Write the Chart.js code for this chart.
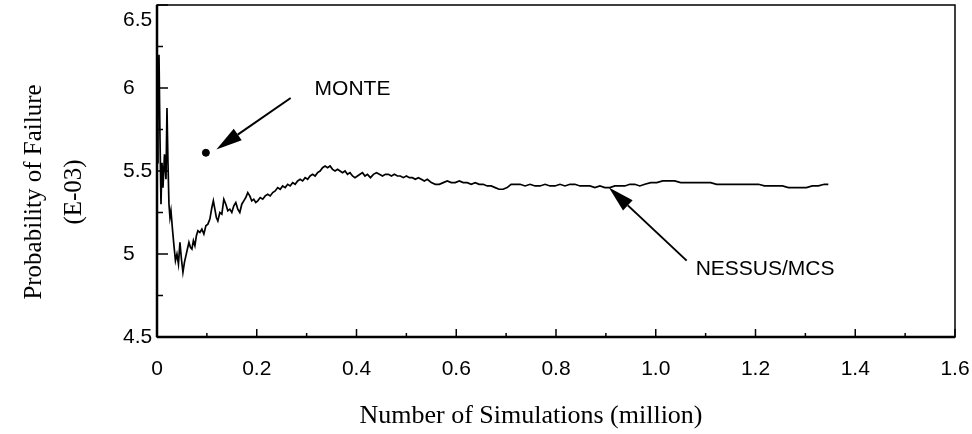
<!DOCTYPE html>
<html>
<head>
<meta charset="utf-8">
<script src="https://cdn.jsdelivr.net/npm/chart.js@4.4.1/dist/chart.umd.min.js"></script>
<style>
  html, body { margin: 0; padding: 0; background: #fff; }
  canvas { display: block; }
</style>
</head>
<body>
<canvas id="pofChart" width="972" height="434"></canvas>
<script>
// simulations (million) and probability of failure (E-03)
const simMillions = [
  0.000, 0.002, 0.004, 0.006, 0.008, 0.010, 0.012, 0.015, 0.018, 0.020,
  0.022, 0.024, 0.026, 0.028, 0.031, 0.034, 0.037, 0.040, 0.043, 0.046,
  0.049, 0.052, 0.055, 0.058, 0.061, 0.064, 0.067, 0.070, 0.073, 0.076,
  0.079, 0.082, 0.086, 0.090, 0.094, 0.098, 0.102, 0.106, 0.110, 0.113,
  0.116, 0.119, 0.122, 0.126, 0.130, 0.134, 0.138, 0.142, 0.146, 0.150,
  0.154, 0.158, 0.162, 0.166, 0.170, 0.174, 0.178, 0.182, 0.186, 0.190,
  0.194, 0.198, 0.202, 0.207, 0.212, 0.217, 0.222, 0.227, 0.232, 0.237,
  0.242, 0.247, 0.252, 0.257, 0.262, 0.267, 0.272, 0.277, 0.282, 0.287,
  0.292, 0.297, 0.302, 0.307, 0.312, 0.317, 0.322, 0.327, 0.332, 0.337,
  0.342, 0.347, 0.352, 0.357, 0.362, 0.367, 0.372, 0.377, 0.382, 0.387,
  0.392, 0.397, 0.402, 0.407, 0.412, 0.417, 0.422, 0.428, 0.434, 0.440,
  0.446, 0.452, 0.458, 0.464, 0.470, 0.476, 0.482, 0.488, 0.494, 0.500,
  0.506, 0.512, 0.518, 0.524, 0.530, 0.536, 0.542, 0.550, 0.558, 0.566,
  0.574, 0.582, 0.590, 0.598, 0.606, 0.614, 0.622, 0.630, 0.638, 0.646,
  0.654, 0.662, 0.670, 0.678, 0.686, 0.694, 0.702, 0.710, 0.718, 0.728,
  0.738, 0.748, 0.758, 0.768, 0.778, 0.788, 0.798, 0.808, 0.818, 0.828,
  0.838, 0.848, 0.858, 0.868, 0.878, 0.888, 0.898, 0.908, 0.918, 0.928,
  0.938, 0.948, 0.958, 0.968, 0.978, 0.990, 1.002, 1.014, 1.026, 1.038,
  1.050, 1.062, 1.074, 1.086, 1.098, 1.110, 1.122, 1.134, 1.146, 1.158,
  1.170, 1.182, 1.194, 1.206, 1.218, 1.230, 1.242, 1.254, 1.266, 1.278,
  1.290, 1.302, 1.314, 1.326, 1.338, 1.346
];
const nessusPof = [
  5.55, 6.05, 6.20, 5.70, 5.30, 5.55, 5.40, 5.60, 5.45, 5.88,
  5.55, 5.30, 5.22, 5.26, 5.15, 5.05, 4.96, 5.00, 4.94, 5.07,
  4.97, 4.89, 4.95, 4.99, 5.03, 5.07, 5.04, 5.03, 5.08, 5.05,
  5.11, 5.14, 5.13, 5.15, 5.12, 5.17, 5.18, 5.21, 5.28, 5.32,
  5.27, 5.22, 5.20, 5.25, 5.24, 5.33, 5.30, 5.26, 5.27, 5.25,
  5.29, 5.31, 5.27, 5.25, 5.30, 5.32, 5.34, 5.37, 5.35, 5.32,
  5.33, 5.31, 5.32, 5.34, 5.33, 5.35, 5.36, 5.35, 5.37, 5.38,
  5.40, 5.39, 5.41, 5.40, 5.42, 5.41, 5.43, 5.42, 5.44, 5.45,
  5.44, 5.46, 5.45, 5.47, 5.48, 5.47, 5.49, 5.50, 5.52, 5.53,
  5.52, 5.53, 5.51, 5.50, 5.51, 5.50, 5.49, 5.50, 5.48, 5.49,
  5.47, 5.46, 5.47, 5.48, 5.49, 5.47, 5.48, 5.46, 5.48, 5.49,
  5.48, 5.47, 5.48, 5.48, 5.47, 5.48, 5.47, 5.47, 5.46, 5.47,
  5.46, 5.46, 5.45, 5.46, 5.45, 5.44, 5.45, 5.43, 5.42, 5.42,
  5.43, 5.44, 5.43, 5.43, 5.44, 5.43, 5.43, 5.42, 5.43, 5.42,
  5.42, 5.41, 5.41, 5.40, 5.39, 5.39, 5.40, 5.42, 5.42, 5.42,
  5.41, 5.42, 5.41, 5.41, 5.42, 5.41, 5.41, 5.42, 5.41, 5.42,
  5.42, 5.41, 5.41, 5.41, 5.40, 5.41, 5.40, 5.40, 5.41, 5.41,
  5.41, 5.42, 5.42, 5.41, 5.42, 5.43, 5.43, 5.44, 5.44, 5.44,
  5.43, 5.43, 5.43, 5.43, 5.43, 5.43, 5.42, 5.42, 5.42, 5.42,
  5.42, 5.42, 5.42, 5.42, 5.41, 5.41, 5.41, 5.41, 5.40, 5.40,
  5.40, 5.40, 5.41, 5.41, 5.42, 5.42
];
const monteSims = [0.098];
const montePof = [5.61];

const xTicks = [0, 0.2, 0.4, 0.6, 0.8, 1.0, 1.2, 1.4, 1.6];
const yTicks = [4.5, 5, 5.5, 6, 6.5];

const xTitle = 'Number of Simulations (million)';
const yTitleLines = ['Probability of Failure', '(E-03)'];

// callouts, given in data units
const callouts = [
  { text: 'MONTE', from: [0.268, 5.94], to: [0.119, 5.63], at: [0.316, 5.99] },
  { text: 'NESSUS/MCS', from: [1.062, 4.96], to: [0.906, 5.40], at: [1.08, 4.91] }
];

const sansFont = '"Liberation Sans", Arial, sans-serif';
const serifFont = '"Liberation Serif", "Times New Roman", serif';

function midpoints(arr) {
  const out = [];
  for (let i = 0; i < arr.length - 1; i++) out.push((arr[i] + arr[i + 1]) / 2);
  return out;
}

const framePlugin = {
  id: 'framePlugin',
  afterDraw(chart) {
    const ctx = chart.ctx;
    const { left, right, top, bottom } = chart.chartArea;
    const xs = chart.scales.x;
    const ys = chart.scales.y;
    const seg = (x1, y1, x2, y2) => { ctx.beginPath(); ctx.moveTo(x1, y1); ctx.lineTo(x2, y2); ctx.stroke(); };

    ctx.save();
    ctx.strokeStyle = '#000';
    ctx.fillStyle = '#000';
    ctx.lineWidth = 1.5;
    ctx.strokeRect(left, top, right - left, bottom - top);
    ctx.lineWidth = 2.5;
    seg(left, top, left, bottom);
    seg(left, bottom, right, bottom);

    // inward ticks
    ctx.lineWidth = 1.5;
    xTicks.forEach(v => { const px = xs.getPixelForValue(v); seg(px, bottom, px, bottom - 8); });
    midpoints(xTicks).forEach(v => { const px = xs.getPixelForValue(v); seg(px, bottom, px, bottom - 4); });
    yTicks.forEach(v => { const py = ys.getPixelForValue(v); seg(left, py, left + 11, py); });
    midpoints(yTicks).forEach(v => { const py = ys.getPixelForValue(v); seg(left, py, left + 6, py); });

    // callout arrows
    callouts.forEach(c => {
      const x1 = xs.getPixelForValue(c.from[0]), y1 = ys.getPixelForValue(c.from[1]);
      const x2 = xs.getPixelForValue(c.to[0]), y2 = ys.getPixelForValue(c.to[1]);
      const ang = Math.atan2(y2 - y1, x2 - x1);
      const headLen = 26, headHalf = 7;
      const bx = x2 - headLen * Math.cos(ang), by = y2 - headLen * Math.sin(ang);
      ctx.lineWidth = 2;
      seg(x1, y1, bx, by);
      ctx.beginPath();
      ctx.moveTo(x2, y2);
      ctx.lineTo(bx + headHalf * Math.sin(ang), by - headHalf * Math.cos(ang));
      ctx.lineTo(bx - headHalf * Math.sin(ang), by + headHalf * Math.cos(ang));
      ctx.closePath();
      ctx.fill();

      ctx.font = '21px ' + sansFont;
      ctx.textAlign = 'left';
      ctx.textBaseline = 'middle';
      ctx.fillText(c.text, xs.getPixelForValue(c.at[0]), ys.getPixelForValue(c.at[1]));
    });

    // axis titles
    ctx.font = '26px ' + serifFont;
    ctx.textAlign = 'center';
    ctx.textBaseline = 'middle';
    ctx.fillText(xTitle, 531, 416);

    ctx.font = '25px ' + serifFont;
    yTitleLines.forEach((line, i) => {
      ctx.save();
      ctx.translate(34 + i * 40, 192);
      ctx.rotate(-Math.PI / 2);
      ctx.fillText(line, 0, 0);
      ctx.restore();
    });
    ctx.restore();
  }
};

const lineData = simMillions.map((x, i) => ({ x, y: nessusPof[i] }));
const monteData = monteSims.map((x, i) => ({ x, y: montePof[i] }));

new Chart(document.getElementById('pofChart'), {
  type: 'line',
  data: {
    datasets: [
      {
        label: 'NESSUS/MCS',
        data: lineData,
        borderColor: '#000',
        borderWidth: 1.7,
        pointRadius: 0,
        tension: 0,
        fill: false
      },
      {
        type: 'scatter',
        label: 'MONTE',
        data: monteData,
        backgroundColor: '#000',
        borderColor: '#000',
        pointRadius: 3.5
      }
    ]
  },
  options: {
    responsive: false,
    animation: false,
    events: [],
    layout: { padding: { left: 123, right: 17, top: 5, bottom: 0 } },
    plugins: { legend: { display: false }, tooltip: { enabled: false } },
    scales: {
      x: {
        type: 'linear',
        min: 0,
        max: 1.6,
        afterBuildTicks(scale) { scale.ticks = xTicks.map(v => ({ value: v })); },
        afterFit(scale) { scale.height = 97; scale.paddingLeft = 0; scale.paddingRight = 0; },
        grid: { display: false, drawTicks: false },
        border: { display: false },
        ticks: {
          padding: 20,
          color: '#000',
          font: { family: sansFont, size: 21 },
          maxRotation: 0,
          autoSkip: false,
          callback: v => (v === 0 ? '0' : v.toFixed(1))
        }
      },
      y: {
        type: 'linear',
        min: 4.5,
        max: 6.5,
        afterBuildTicks(scale) { scale.ticks = yTicks.map(v => ({ value: v })); },
        afterFit(scale) { scale.width = 34; scale.paddingTop = 0; scale.paddingBottom = 0; },
        grid: { display: false, drawTicks: false },
        border: { display: false },
        ticks: {
          crossAlign: 'far',
          padding: 4,
          color: '#000',
          font: { family: sansFont, size: 21, lineHeight: 1.45 },
          autoSkip: false,
          callback: v => (v === 6.5 ? ['', '6.5'] : String(v))
        }
      }
    }
  },
  plugins: [framePlugin]
});
</script>
</body>
</html>
